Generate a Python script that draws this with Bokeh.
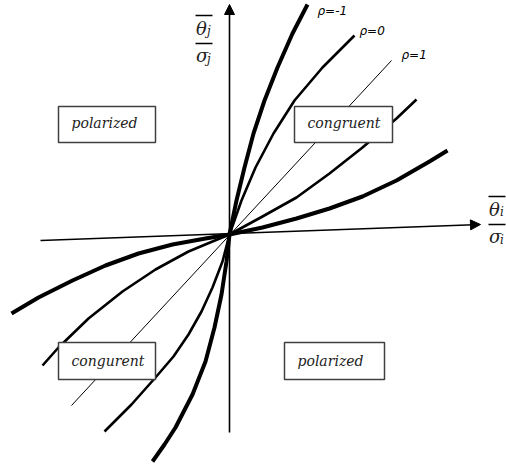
from bokeh.plotting import figure
from bokeh.models import Range1d, Label, Arrow, NormalHead
from bokeh.embed import file_html
from bokeh.resources import INLINE

# ---- curve data (x = theta_i/sigma_i, y = theta_j/sigma_j, arbitrary units) ----
rho_m1_steep_x = [-77, -65, -54, -37, -24, -15, -8, -3, 0, 7, 15, 24, 35, 48, 63, 78]
rho_m1_steep_y = [-227, -210, -193, -160, -127, -93, -60, -27, 0, 34, 67, 101, 134, 167, 201, 230]

rho_m1_flat_x = [-218, -191, -157, -124, -91, -57, -24, 0, 33, 67, 100, 133, 167, 200, 218]
rho_m1_flat_y = [-79, -63, -46, -31, -19, -10, -4, 0, 7, 16, 26, 38, 54, 73, 84]

rho_0_steep_x = [-125, -98, -74, -56, -41, -28, -17, -7, 0, 12, 26, 44, 65, 93, 125]
rho_0_steep_y = [-197, -170, -143, -122, -100, -77, -53, -27, 0, 34, 67, 101, 134, 167, 199]

rho_0_flat_x = [-187, -171, -141, -107, -74, -41, -17, 0, 33, 67, 100, 133, 167, 187]
rho_0_flat_y = [-131, -113, -84, -57, -35, -17, -7, 0, 18, 37, 61, 87, 116, 135]

rho_1_x = [-158, 162]
rho_1_y = [-171, 174]

# ---- axes ----
h_axis_x = [-189, 251]
h_axis_y = [-6, 10]
v_axis_x = [0, 0]
v_axis_y = [-198, 230]

# ---- labels ----
rho_labels = ["ρ=-1", "ρ=0", "ρ=1"]
rho_label_x = [88, 130, 172]
rho_label_y = [224, 204, 180]

region_labels = ["polarized", "congruent", "congurent", "polarized"]
region_left = [-171, 65, -171, 55]
region_right = [-74, 163, -74, 155]
region_top = [128, 128, -108, -108]
region_bottom = [92, 92, -145, -145]
region_text_x = [-158, 78, -158, 68]
region_text_y = [112, 112, -126, -126]

W, H = 506, 467
p = figure(width=W, height=H, output_backend="svg", toolbar_location=None,
           x_range=Range1d(-229, 277), y_range=Range1d(-233, 234),
           min_border=0, min_border_left=0, min_border_right=0,
           min_border_top=0, min_border_bottom=0)
p.axis.visible = False
p.grid.visible = False
p.outline_line_color = None
p.background_fill_color = "white"
p.border_fill_color = "white"

# axes lines with arrows
p.add_layout(Arrow(end=NormalHead(size=10, fill_color="black", line_color="black", line_width=1),
                   x_start=h_axis_x[0], y_start=h_axis_y[0], x_end=h_axis_x[1], y_end=h_axis_y[1],
                   line_width=1.6, line_color="black"))
p.add_layout(Arrow(end=NormalHead(size=10, fill_color="black", line_color="black", line_width=1),
                   x_start=v_axis_x[0], y_start=v_axis_y[0], x_end=v_axis_x[1], y_end=v_axis_y[1],
                   line_width=1.6, line_color="black"))

# curves
p.line(rho_1_x, rho_1_y, line_width=1, line_color="black")
p.line(rho_0_steep_x, rho_0_steep_y, line_width=2.6, line_color="black", line_join="round")
p.line(rho_0_flat_x, rho_0_flat_y, line_width=2.6, line_color="black", line_join="round")
p.line(rho_m1_steep_x, rho_m1_steep_y, line_width=4, line_color="black", line_join="round")
p.line(rho_m1_flat_x, rho_m1_flat_y, line_width=4, line_color="black", line_join="round")

# region boxes
p.quad(left=region_left, right=region_right, top=region_top, bottom=region_bottom,
       fill_color="white", fill_alpha=1, line_color="#404040", line_width=1.5)
p.text(x=region_text_x, y=region_text_y, text=region_labels,
       text_font={"value": "DejaVu Serif"}, text_font_style="italic",
       text_font_size="14px", text_color="#222222",
       text_align="left", text_baseline="alphabetic")

# rho labels
p.text(x=rho_label_x, y=rho_label_y, text=rho_labels,
       text_font={"value": "DejaVu Sans"}, text_font_style="italic",
       text_font_size="12px", text_color="black",
       text_align="left", text_baseline="alphabetic")

# axis fraction labels (theta bar / sigma)
def frac_label(x0, y_top, sub):
    p.segment(x0=[x0, x0], y0=[y_top, y_top - 28], x1=[x0 + 17, x0 + 17], y1=[y_top, y_top - 28],
              line_color="black", line_width=1.6)
    common = dict(text_font="DejaVu Serif", text_font_style="italic",
                  text_color="#222222", text_baseline="alphabetic", text_align="left")
    p.add_layout(Label(x=x0 + 0.5, y=y_top - 13, text="θ", text_font_size="18px", **common))
    p.add_layout(Label(x=x0 + 11.5, y=y_top - 15, text=sub, text_font_size="12px", **common))
    p.add_layout(Label(x=x0 + 0.5, y=y_top - 40, text="σ", text_font_size="18px", **common))
    p.add_layout(Label(x=x0 + 11.5, y=y_top - 43, text=sub, text_font_size="12px", **common))

frac_label(-34, 219, "j")
frac_label(259, 38, "i")

open("out.html", "w").write(file_html(p, INLINE))
